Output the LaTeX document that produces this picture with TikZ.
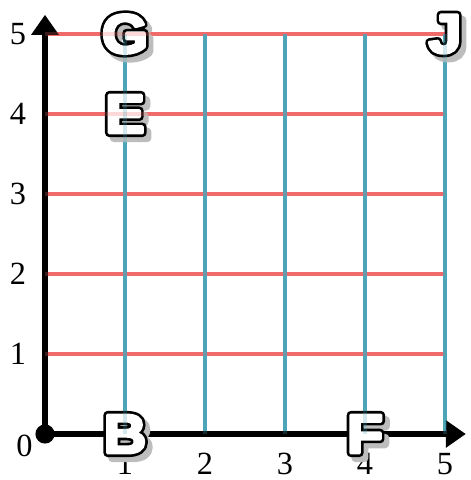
\documentclass[tikz,border=0pt]{standalone}
\usepackage{fontspec}
\usetikzlibrary{arrows.meta, positioning}
\setmainfont{Liberation Serif}
\newfontfamily\letterfont{Liberation Sans Bold}[FakeStretch=1.08]
\definecolor{gRed}{HTML}{F06A6A}
\definecolor{gBlue}{HTML}{4DA6B8}
\definecolor{gShadow}{HTML}{BDBDBD}
% text filled and stroked in one colour: #1 colour, #2 stroke width (bp)
\newcommand{\strokelet}[3]{\textcolor{#1}{\special{pdf:literal direct 2 Tr #2 w 1 j}#3\special{pdf:literal direct 0 Tr}}}

\begin{document}
\begin{tikzpicture}[x=1cm, y=1cm,
    hline/.style={gRed, line width=1.1pt},
    vline/.style={gBlue, line width=1.1pt},
    axis/.style={line width=1.8pt, -{Triangle[length=0.25cm, width=0.33cm]}},
    tick/.style={inner sep=0pt, font=\fontsize{11.5}{12}\selectfont},
    letter/.style={inner sep=0pt, font=\letterfont\fontsize{19.5}{20}\selectfont},
    lettershadow/.style={letter, xshift=1.7pt, yshift=-1.8pt}]
    \useasboundingbox (-0.5625,-0.575) rectangle (5.3125,5.425);
    % grid
    \foreach \k in {1,...,5} {
      \draw[hline] (0,\k) -- (5,\k);
    }
    \foreach \k in {1,...,5} {
      \draw[vline] (\k,0) -- (\k,5);
    }
    % axes
    \coordinate (o) at (0,0);
    \coordinate (xend) at (5.26,0);
    \coordinate (yend) at (0,5.24);
    \draw[axis] (o) -- (xend);
    \draw[axis] (o) -- (yend);
    \fill (o) circle (0.12);
    % tick labels
    \node[tick, anchor=north east] (l0) at (-0.15,-0.01) {0};
    \foreach \k in {1,...,5} {
      \node[tick, anchor=east] (ly\k) at (-0.23,\k) {\k};
      \node[tick, anchor=north] (lx\k) at (\k,-0.23) {\k};
    }
    % letters: shadow, black rim, white face
    \foreach \name/\pos in {G/{1,5}, E/{1,4}, J/{5,5}, B/{1,0}, F/{4,0}} {
      \node[lettershadow] (\name s) at (\pos) {\strokelet{gShadow}{3}{\name}};
      \node[letter] (\name o) at (\pos) {\strokelet{black}{3}{\name}};
      \node[letter] (\name) at (\pos) {\strokelet{white}{1.1}{\name}};
    }
    % lines seen through the letters
    \begin{scope}[opacity=0.25]
      \foreach \k in {1,...,5} {
        \draw[hline] (0,\k) -- (5,\k);
      }
      \foreach \k in {1,...,5} {
        \draw[vline] (\k,0) -- (\k,5);
      }
    \end{scope}
\end{tikzpicture}
\end{document}
